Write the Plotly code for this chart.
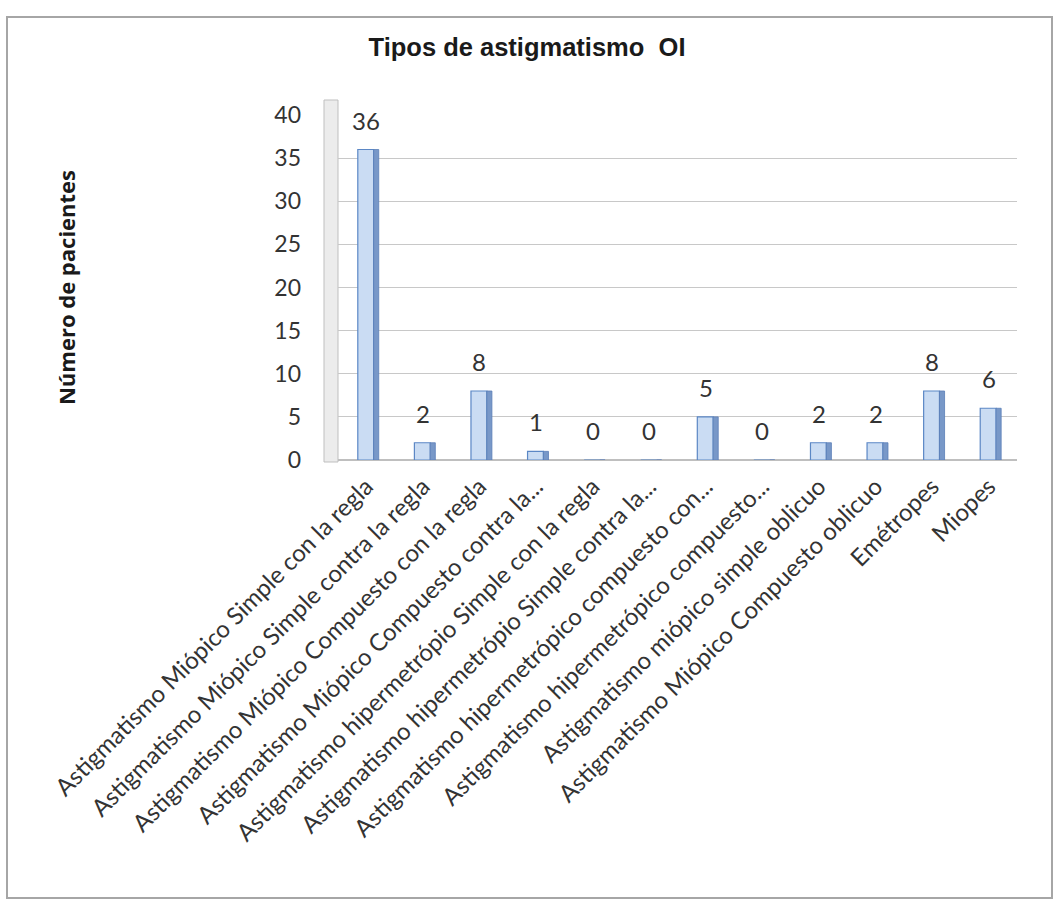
import plotly.graph_objects as go

categories = [
    "Astigmatismo Miópico Simple con la regla",
    "Astigmatismo Miópico Simple contra la regla",
    "Astigmatismo Miópico Compuesto con la regla",
    "Astigmatismo Miópico Compuesto contra la...",
    "Astigmatismo hipermetrópio Simple con la regla",
    "Astigmatismo hipermetrópio Simple contra la...",
    "Astigmatismo hipermetrópico compuesto con...",
    "Astigmatismo hipermetrópico compuesto...",
    "Astigmatismo miópico simple oblicuo",
    "Astigmatismo Miópico Compuesto oblicuo",
    "Emétropes",
    "Miopes",
]
values = [36, 2, 8, 1, 0, 0, 5, 0, 2, 2, 8, 6]
y_ticks = [0, 5, 10, 15, 20, 25, 30, 35, 40]

W, H = 1057, 900
ML, MR, MT, MB = 338, 40, 115, 440
pw = W - ML - MR
ph = H - MT - MB

TICK_FONT = "Lato, Open Sans, sans-serif"

fig = go.Figure()
# front face
fig.add_bar(
    x=categories, y=values, width=0.28, offset=-0.15,
    marker=dict(color="#cadcf3", line=dict(color="#5b87c5", width=1.2)),
    hoverinfo="x+y", showlegend=False,
)
# side face (3D look)
fig.add_bar(
    x=categories, y=values, width=0.09, offset=0.13,
    marker=dict(color="#7898c8", line=dict(color="#5b7fb8", width=0.8)),
    hoverinfo="skip", showlegend=False,
)

for c, v in zip(categories, values):
    fig.add_annotation(
        x=c, y=v, text=str(v), showarrow=False, yanchor="bottom",
        yshift=13, font=dict(family=TICK_FONT, size=24, color="#333333"),
    )

def px_to_paper_x(px):
    return (px - ML) / pw

def py_to_paper_y(py):
    return (H - MB - py) / ph

# outer chart frame
fig.add_shape(
    type="rect", xref="paper", yref="paper",
    x0=px_to_paper_x(7), x1=px_to_paper_x(1052),
    y0=py_to_paper_y(898), y1=py_to_paper_y(17),
    line=dict(color="#a6a6a6", width=2), fillcolor="rgba(0,0,0,0)", layer="below",
)
# left wall (3D look)
fig.add_shape(
    type="rect", xref="paper", yref="paper",
    x0=px_to_paper_x(324), x1=px_to_paper_x(338),
    y0=py_to_paper_y(462), y1=py_to_paper_y(100),
    line=dict(color="#bfbfbf", width=1), fillcolor="#ececec", layer="below",
)

fig.update_layout(
    width=W, height=H,
    margin=dict(l=ML, r=MR, t=MT, b=MB),
    paper_bgcolor="white", plot_bgcolor="white",
    barmode="overlay",
    title=dict(
        text="Tipos de astigmatismo\u00a0\u00a0OI",
        x=527 / W, xanchor="center", y=1 - 47 / H, yanchor="middle",
        font=dict(family="Liberation Sans, Arial, sans-serif", size=25.5, color="#1a1a1a", weight="bold"),
    ),
    xaxis=dict(
        tickangle=-45, tickfont=dict(family=TICK_FONT, size=24, color="#333333"),
        showgrid=False, showline=True, linecolor="#bfbfbf", ticks="",
        ticklabelstandoff=2, automargin=False,
    ),
    yaxis=dict(
        range=[0, 40], tickvals=y_ticks,
        tickfont=dict(family=TICK_FONT, size=23, color="#333333"),
        showgrid=True, gridcolor="#c8c8c8", gridwidth=1.2,
        zeroline=True, zerolinecolor="#bfbfbf",
        ticks="", ticklabelstandoff=36, automargin=False,
        title=dict(
            text="Número de pacientes", standoff=192,
            font=dict(family="Open Sans, sans-serif", size=22, color="#1a1a1a", weight="bold"),
        ),
    ),
)

fig.write_html("out.html")
